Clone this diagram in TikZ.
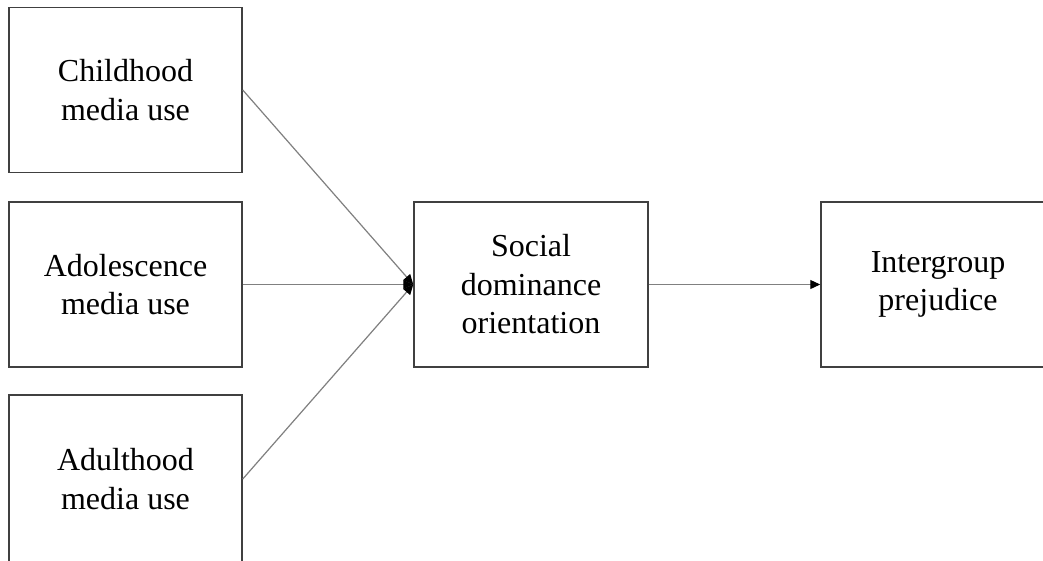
\documentclass[tikz,border=0pt]{standalone}
\usepackage{fontspec}
\setmainfont{Liberation Serif}
\usetikzlibrary{arrows.meta}
\begin{document}
\begin{tikzpicture}[x=1pt,y=-1pt,
  box/.style={draw=black!75, line width=1.5pt, rectangle, inner sep=0pt,
    minimum width=233pt, minimum height=165pt, align=center,
    font=\fontsize{32}{38.5}\selectfont},
  link/.style={draw=black!50, line width=1.2pt,
    -{Triangle[length=10pt,width=9pt,fill=black,color=black]}}]
\useasboundingbox (0,0) rectangle (1043,560);
\clip (0,0) rectangle (1043,560);
\fill[white] (0,0) rectangle (1043,560);
\node[box] (child) at (125.5,90) {Childhood\\media use};
\node[box] (adol) at (125.5,284.5) {Adolescence\\media use};
\node[box, minimum height=168pt] (adult) at (125.5,479) {Adulthood\\media use};
\node[box, minimum width=234pt] (sdo) at (531,284.5) {Social\\dominance\\orientation};
\node[box, minimum width=234pt] (prej) at (938,284.5) {Intergroup\\prejudice};
\draw[link] (child.east) -- (sdo.west);
\draw[link] (adol.east) -- (sdo.west);
\draw[link] (adult.east) -- (sdo.west);
\draw[link] (sdo.east) -- (prej.west);
\end{tikzpicture}
\end{document}
